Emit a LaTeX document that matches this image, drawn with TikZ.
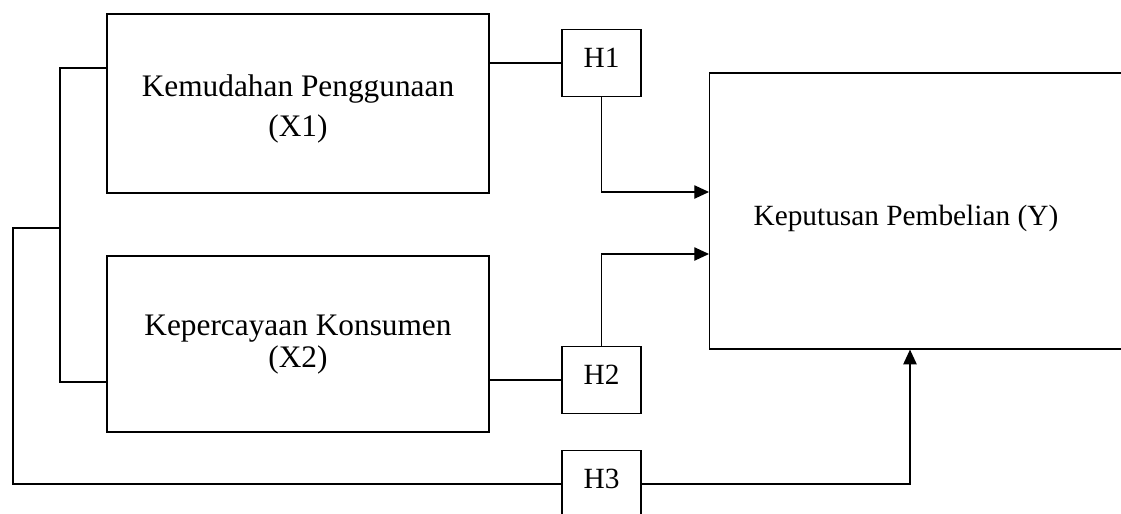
\documentclass[tikz,border=0pt]{standalone}
\usepackage{fontspec}
\setmainfont{Liberation Serif}
\usetikzlibrary{arrows.meta}
\begin{document}
\begin{tikzpicture}[x=0.75pt,y=-0.75pt,
  line width=0.9pt,
  varbox/.style={draw, rectangle, inner sep=0pt, minimum width=286.5pt},
  vartext/.style={align=center, inner sep=0pt,
    font=\fontsize{23.5pt}{22.5pt}\selectfont},
  hypbox/.style={draw, rectangle, inner sep=0pt, minimum width=59.25pt,
    minimum height=50.25pt, text height=15pt, text depth=8.25pt,
    font=\fontsize{22pt}{26pt}\selectfont},
  arr/.style={-{Triangle[length=11pt,width=10pt]}}]
\useasboundingbox (0,0) rectangle (1121,514);
\clip (0,0) rectangle (1121,514);

% variable boxes
\node[varbox, minimum height=134.25pt,
  label={[vartext, yshift=-3.9pt]center:Kemudahan Penggunaan\\[7.5pt](X1)}]
  (X1) at (298,103.5) {};
\node[varbox, minimum height=132pt,
  label={[vartext, yshift=-0.6pt]center:Kepercayaan Konsumen\\[1.5pt](X2)}]
  (X2) at (298,344) {};
\node[draw, rectangle, anchor=west, inner ysep=0pt, inner xsep=33pt,
  text width=260pt, align=flush left, minimum height=207pt,
  text height=21pt, text depth=0pt,
  font=\fontsize{22pt}{26pt}\selectfont] (Y) at (709,211)
  {Keputusan Pembelian (Y)};

% hypothesis boxes
\node[hypbox] (H1) at (601.5,63) {H1};
\node[hypbox] (H2) at (601.5,380) {H2};
\node[hypbox] (H3) at (601.5,484) {H3};

% junction points of the joint-effect bracket
\coordinate (split) at (60,228);
\coordinate (outer) at (13,228);

% partial effects
\draw (X1.east |- H1.west) -- (H1.west);
\draw[arr] (H1.south) |- (Y.west |- 0,192);
\draw (X2.east |- H2.west) -- (H2.west);
\draw[arr] (H2.north) |- (Y.west |- 0,254);

% simultaneous effect
\draw (X1.west |- 0,68) -| (split) |- (X2.west |- 0,382);
\draw (split) -- (outer) |- (H3.west);
\draw[arr] (H3.east) -| (Y.south -| 910,0);
\end{tikzpicture}
\end{document}
